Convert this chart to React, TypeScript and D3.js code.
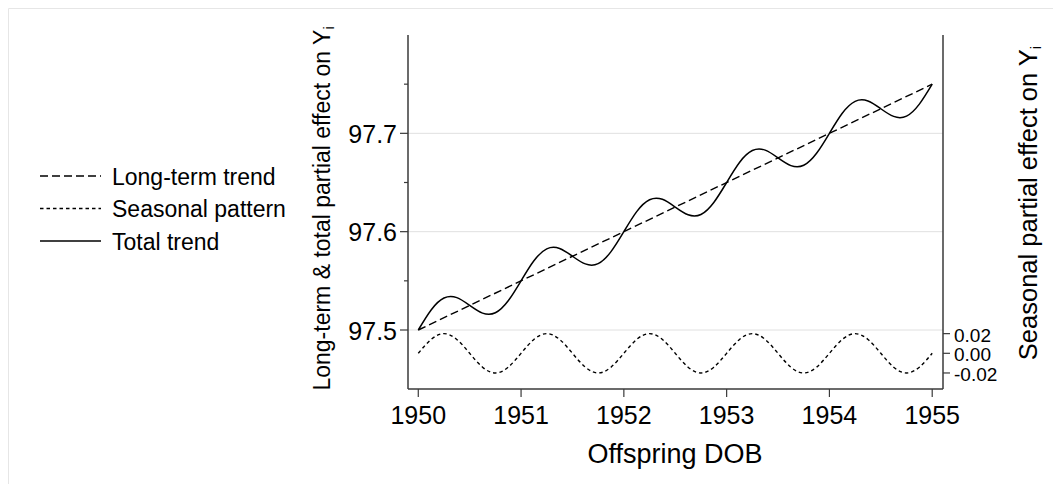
import React from "react";
import * as d3 from "d3";

// ---- data ----
const dob = [
  1950, 1950.125, 1950.25, 1950.375, 1950.5, 1950.625, 1950.75, 1950.875,
  1951, 1951.125, 1951.25, 1951.375, 1951.5, 1951.625, 1951.75, 1951.875,
  1952, 1952.125, 1952.25, 1952.375, 1952.5, 1952.625, 1952.75, 1952.875,
  1953, 1953.125, 1953.25, 1953.375, 1953.5, 1953.625, 1953.75, 1953.875,
  1954, 1954.125, 1954.25, 1954.375, 1954.5, 1954.625, 1954.75, 1954.875,
  1955,
];
const seasonal = [
  0, 0.0141, 0.02, 0.0141, 0, -0.0141, -0.02, -0.0141,
  0, 0.0141, 0.02, 0.0141, 0, -0.0141, -0.02, -0.0141,
  0, 0.0141, 0.02, 0.0141, 0, -0.0141, -0.02, -0.0141,
  0, 0.0141, 0.02, 0.0141, 0, -0.0141, -0.02, -0.0141,
  0, 0.0141, 0.02, 0.0141, 0, -0.0141, -0.02, -0.0141,
  0,
];
const total = [
  97.5, 97.5204, 97.5325, 97.5329, 97.525, 97.5172, 97.5175, 97.5297,
  97.55, 97.5704, 97.5825, 97.5829, 97.575, 97.5672, 97.5675, 97.5797,
  97.6, 97.6204, 97.6325, 97.6329, 97.625, 97.6172, 97.6175, 97.6297,
  97.65, 97.6704, 97.6825, 97.6829, 97.675, 97.6672, 97.6675, 97.6797,
  97.7, 97.7204, 97.7325, 97.7329, 97.725, 97.7172, 97.7175, 97.7297,
  97.75,
];
const trendX = [1950, 1955];
const trendY = [97.5, 97.75];

const xTicks = [1950, 1951, 1952, 1953, 1954, 1955];
const yMajorTicks = [97.5, 97.6, 97.7];
const yMinorTicks = [97.55, 97.65, 97.75];
const rightTicks = [0.02, 0.0, -0.02];

const legendItems = [
  { label: "Long-term trend", dash: "8,4" },
  { label: "Seasonal pattern", dash: "3.5,3" },
  { label: "Total trend", dash: "none" },
];

const FONT = "Arial, 'Liberation Sans', Helvetica, sans-serif";
const INK = "#000";
const AXIS = "#3a3a3a";

export default function App() {
  const left = 408, right = 943, top = 35, bottom = 389;
  const x = d3.scaleLinear().domain([1949.9, 1955.105]).range([left, right]);
  const y = d3.scaleLinear().domain([97.44, 97.8]).range([bottom, top]);
  const yR = d3.scaleLinear().domain([-0.0363, 0.3237]).range([bottom, top]);

  const totalPath = d3
    .line<number>()
    .x((_, i) => x(dob[i]))
    .y((d) => y(d))
    .curve(d3.curveNatural)(total) || "";
  const seasonalPath = d3
    .line<number>()
    .x((_, i) => x(dob[i]))
    .y((d) => yR(d))
    .curve(d3.curveNatural)(seasonal) || "";
  const trendPath = d3
    .line<number>()
    .x((_, i) => x(trendX[i]))
    .y((d) => y(d))(trendY) || "";

  return (
    <svg
      width={1053}
      height={484}
      style={{ position: "absolute", left: 0, top: 0, background: "#fff" }}
      fontFamily={FONT}
    >
      <rect x={0} y={0} width={1053} height={484} fill="#fff" />
      {/* outer frame */}
      <line x1={8.5} y1={8.5} x2={1053} y2={8.5} stroke="#e6e6e6" strokeWidth={1} />
      <line x1={8.5} y1={8.5} x2={8.5} y2={484} stroke="#e6e6e6" strokeWidth={1} />

      {/* grid */}
      {yMajorTicks.map((t) => (
        <line key={"g" + t} x1={left} x2={right} y1={y(t)} y2={y(t)} stroke="#e0e0e0" strokeWidth={1} />
      ))}

      {/* axes lines */}
      <line x1={left} x2={left} y1={top} y2={bottom} stroke={AXIS} strokeWidth={1.5} />
      <line x1={right} x2={right} y1={top} y2={bottom} stroke={AXIS} strokeWidth={1.5} />
      <line x1={left} x2={right} y1={bottom} y2={bottom} stroke={AXIS} strokeWidth={1.5} />

      {/* left ticks */}
      {yMajorTicks.map((t) => (
        <g key={"l" + t}>
          <line x1={left - 8} x2={left} y1={y(t)} y2={y(t)} stroke={AXIS} strokeWidth={1.2} />
          <text x={397} y={y(t) + 9.5} textAnchor="end" fontSize={25} fill={INK}>
            {t.toFixed(1)}
          </text>
        </g>
      ))}
      {yMinorTicks.map((t) => (
        <line key={"m" + t} x1={left - 4} x2={left} y1={y(t)} y2={y(t)} stroke={AXIS} strokeWidth={1.2} />
      ))}

      {/* right ticks */}
      {rightTicks.map((t) => (
        <g key={"r" + t}>
          <line x1={right} x2={right + 7} y1={yR(t)} y2={yR(t)} stroke={AXIS} strokeWidth={1.2} />
          <text x={right + 11} y={yR(t) + 8} fontSize={19} fill={INK}>
            {t.toFixed(2).replace("-0.00", "0.00")}
          </text>
        </g>
      ))}

      {/* bottom ticks */}
      {xTicks.map((t) => (
        <g key={"x" + t}>
          <line x1={x(t)} x2={x(t)} y1={bottom} y2={bottom + 8} stroke={AXIS} strokeWidth={1.2} />
          <text x={x(t)} y={423.5} textAnchor="middle" fontSize={25} fill={INK}>
            {t}
          </text>
        </g>
      ))}

      {/* series */}
      <path d={trendPath} fill="none" stroke={INK} strokeWidth={1.4} strokeDasharray="8,4" />
      <path d={seasonalPath} fill="none" stroke={INK} strokeWidth={1.4} strokeDasharray="3.5,3" />
      <path d={totalPath} fill="none" stroke={INK} strokeWidth={1.5} />

      {/* axis titles */}
      <text x={675} y={463} textAnchor="middle" fontSize={27} fill={INK}>
        Offspring DOB
      </text>
      <text
        transform={`translate(330,${(29 + 388) / 2}) rotate(-90)`}
        textAnchor="middle"
        fontSize={23}
        fill={INK}
      >
        Long-term &amp; total partial effect on Y
        <tspan fontSize={14} dy={4}>i</tspan>
      </text>
      <text
        transform={`translate(1037,${(43 + 363) / 2}) rotate(-90)`}
        textAnchor="middle"
        fontSize={25.5}
        fill={INK}
      >
        Seasonal partial effect on Y
        <tspan fontSize={15} dy={4}>i</tspan>
      </text>

      {/* legend */}
      {legendItems.map((it, i) => {
        const cy = 176 + i * 32.5;
        return (
          <g key={it.label}>
            <line
              x1={40}
              x2={101}
              y1={cy}
              y2={cy}
              stroke={INK}
              strokeWidth={1.3}
              strokeDasharray={it.dash}
            />
            <text x={112} y={cy + 8.5} fontSize={23} fill={INK}>
              {it.label}
            </text>
          </g>
        );
      })}
    </svg>
  );
}
